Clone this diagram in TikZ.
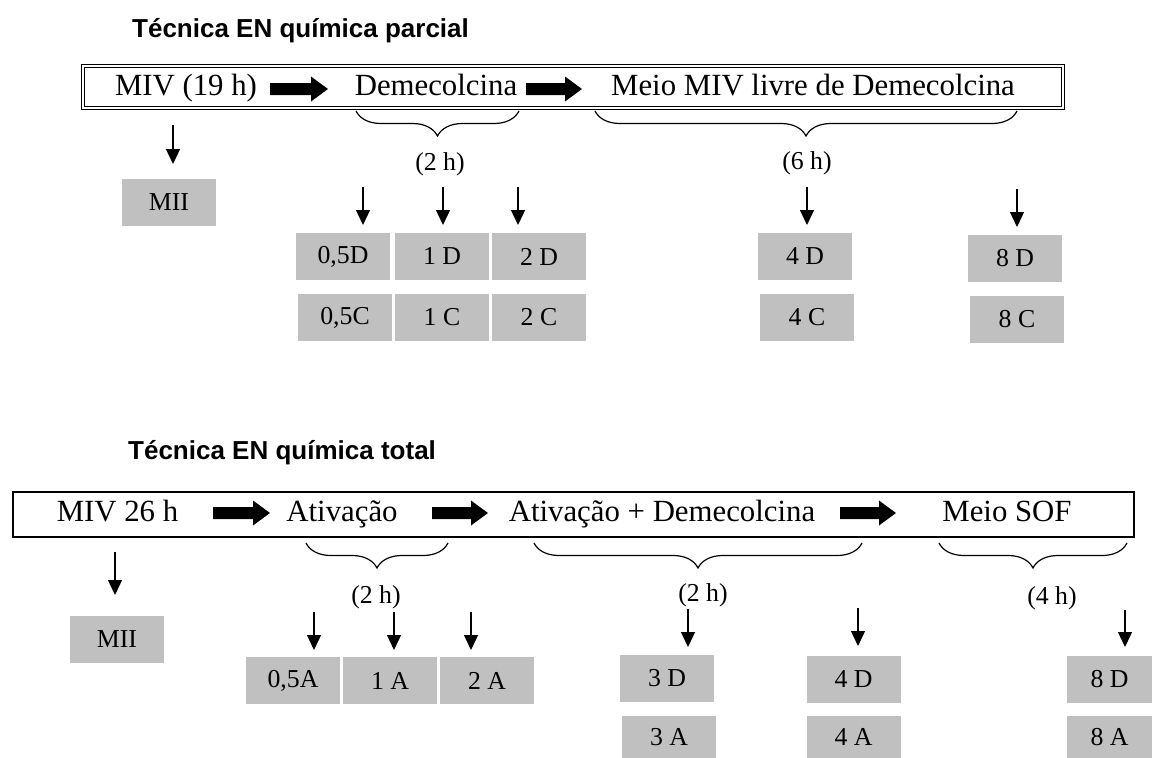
\documentclass[tikz,border=0pt]{standalone}
\usepackage{fontspec}
\setmainfont{Liberation Serif}
\newfontfamily\titlefont{Liberation Sans}
\usetikzlibrary{arrows.meta,decorations.pathreplacing,calc}
\definecolor{boxgray}{HTML}{C0C0C0}
\begin{document}
\begin{tikzpicture}[x=1pt,y=-1pt,
  big/.style={font=\fontsize{30.8}{36}\selectfont, inner sep=0pt, anchor=base},
  small/.style={font=\fontsize{25.8}{30}\selectfont, inner sep=0pt},
  ttl/.style={font=\titlefont\bfseries\fontsize{26}{30}\selectfont, inner sep=0pt, anchor=base west},
  graybox/.style={fill=boxgray, minimum width=94pt, minimum height=47pt, inner sep=0pt, font=\fontsize{25.8}{30}\selectfont},
  thinarrow/.style={line width=1.3pt, -{Triangle[width=14pt,length=15pt]}},
  bracestyle/.style={decorate, decoration={brace, amplitude=25pt, mirror}, line width=1.2pt},
  pics/blockarrow/.style={code={\fill (0,-6) -- ({#1-17},-6) -- ({#1-17},-12.5) -- (#1,0) -- ({#1-17},12.5) -- ({#1-17},6) -- (0,6) -- cycle;}}
]
\useasboundingbox (0,0) rectangle (1152,758);

% ===== Top: parcial =====
\node[ttl] (t1) at (132,37) {Técnica EN química parcial};
\node[draw, double, double distance=1.6pt, line width=0.8pt, minimum width=980pt, minimum height=42pt, inner sep=0pt] (bar1) at (573,87) {};
\node[big] (miv1) at (186,95) {MIV (19 h)};
\pic at (270,89) {blockarrow=58};
\node[big] (dem1) at (436,95) {Demecolcina};
\pic at (526,89) {blockarrow=56};
\node[big] (meio1) at (813,95) {Meio MIV livre de Demecolcina};

\draw[bracestyle] (356,111) -- (519,111);
\draw[bracestyle] (595,111) -- (1017,111);
\node[small] (h2a) at (440,164) {(2 h)};
\node[small] (h6) at (807,163) {(6 h)};

\node[graybox] (mii1) at (169,202.5) {MII};
\coordinate (m1s) at (173,125); \coordinate (m1e) at (173,164);
\draw[thinarrow] (m1s) -- (m1e);

\node[graybox] (d05) at (343,256.5) {0,5D};
\node[graybox] (d1) at (442,256.5) {1 D};
\node[graybox] (d2) at (539,256.5) {2 D};
\node[graybox] (c05) at (345,317.5) {0,5C};
\node[graybox] (c1) at (442,317.5) {1 C};
\node[graybox] (c2) at (539,317.5) {2 C};
\node[graybox] (d4) at (805,256.5) {4 D};
\node[graybox] (c4) at (807,317.5) {4 C};
\node[graybox] (d8) at (1015,258.5) {8 D};
\node[graybox] (c8) at (1017,319.5) {8 C};

\coordinate (a1s) at (363,187); \coordinate (a1e) at (363,225);
\coordinate (a2s) at (443,187); \coordinate (a2e) at (443,225);
\coordinate (a3s) at (518,187); \coordinate (a3e) at (518,225);
\coordinate (a4s) at (807,187); \coordinate (a4e) at (807,225);
\coordinate (a5s) at (1017,189); \coordinate (a5e) at (1017,227);
\foreach \i in {1,...,5} \draw[thinarrow] (a\i s) -- (a\i e);

% ===== Bottom: total =====
\node[ttl] (t2) at (128,459) {Técnica EN química total};
\node[draw, line width=1.8pt, minimum width=1121pt, minimum height=45pt, inner sep=0pt] (bar2) at (573.5,514.5) {};
\node[big] (miv2) at (117.5,521) {MIV 26 h};
\pic at (213,513) {blockarrow=57};
\node[big] (at2) at (342,521) {Ativação};
\pic at (432,513) {blockarrow=56};
\node[big] (atd2) at (662,521) {Ativação + Demecolcina};
\pic at (840,513) {blockarrow=56};
\node[big] (sof2) at (1007,521) {Meio SOF};

\draw[bracestyle] (306,543) -- (448,543);
\draw[bracestyle] (534,543) -- (862,543);
\draw[bracestyle] (939,543) -- (1127,543);
\node[small] (h2b) at (376,597) {(2 h)};
\node[small] (h2c) at (703,595) {(2 h)};
\node[small] (h4) at (1052,598) {(4 h)};

\node[graybox] (mii2) at (117,639.5) {MII};
\coordinate (m2s) at (115,552); \coordinate (m2e) at (115,595);
\draw[thinarrow] (m2s) -- (m2e);

\node[graybox] (a05) at (293,680.5) {0,5A};
\node[graybox] (aa1) at (390,680.5) {1 A};
\node[graybox] (aa2) at (487,680.5) {2 A};
\node[graybox] (d3) at (667,678.5) {3 D};
\node[graybox, minimum height=42pt] (aa3) at (669,737) {3 A};
\node[graybox] (d4b) at (853.5,679.5) {4 D};
\node[graybox, minimum height=42pt] (aa4) at (853.5,737) {4 A};
\node[graybox, minimum width=85pt] (d8b) at (1109.5,679) {8 D};
\node[graybox, minimum width=85pt, minimum height=42pt] (aa8) at (1109.5,737) {8 A};

\coordinate (b1s) at (314,612); \coordinate (b1e) at (314,650);
\coordinate (b2s) at (394,612); \coordinate (b2e) at (394,650);
\coordinate (b3s) at (471,612); \coordinate (b3e) at (471,650);
\coordinate (b4s) at (688,609); \coordinate (b4e) at (688,647);
\coordinate (b5s) at (858,608); \coordinate (b5e) at (858,646);
\coordinate (b6s) at (1125,610); \coordinate (b6e) at (1125,647);
\foreach \i in {1,...,6} \draw[thinarrow] (b\i s) -- (b\i e);
\end{tikzpicture}
\end{document}
